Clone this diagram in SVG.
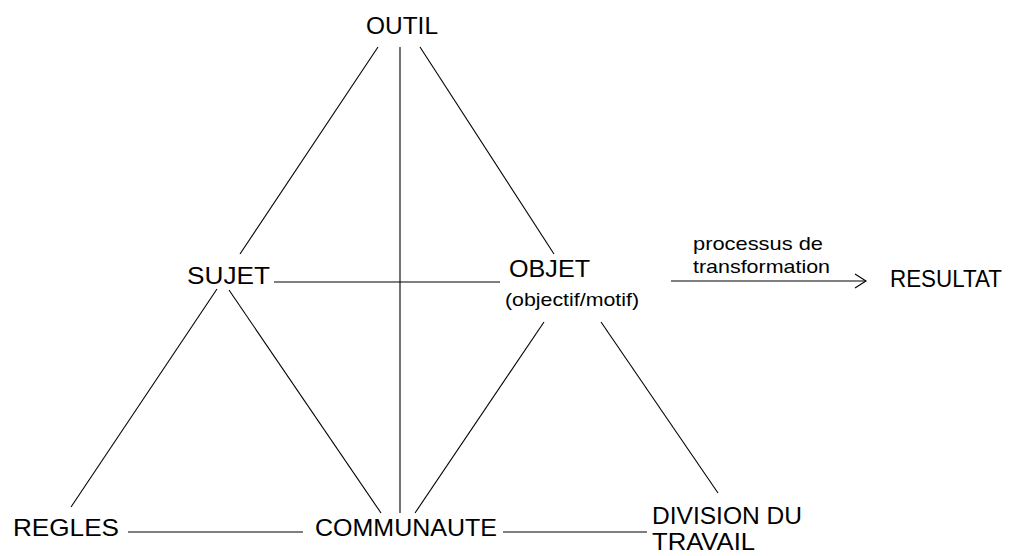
<svg xmlns="http://www.w3.org/2000/svg" width="1032" height="556" viewBox="0 0 1032 556">
<style>
.lbl{font-family:"Liberation Sans",Arial,sans-serif;font-size:24px;fill:#000}
.lbl2{font-family:"Liberation Sans",Arial,sans-serif;font-size:23px;fill:#000}
.sm{font-family:"Liberation Sans",Arial,sans-serif;font-size:19px;fill:#000}
.ln{stroke:#000;stroke-width:1.1;fill:none}
</style>
<defs>
<marker id="open" markerWidth="14" markerHeight="18" refX="12" refY="8" orient="auto" markerUnits="userSpaceOnUse">
<path d="M1,1 L12,8 L1,15" class="ln"/>
</marker>
</defs>
<rect width="1032" height="556" fill="#fff"/>
<g id="connectors">
<line class="ln" x1="400" y1="47" x2="400" y2="513"/>
<line class="ln" x1="378" y1="47" x2="240" y2="254"/>
<line class="ln" x1="420" y1="47" x2="554" y2="254"/>
<line class="ln" x1="274" y1="282" x2="500" y2="282"/>
<line class="ln" x1="217" y1="289" x2="71" y2="507"/>
<line class="ln" x1="229" y1="290" x2="381" y2="513"/>
<line class="ln" x1="544" y1="322" x2="415" y2="513"/>
<line class="ln" x1="601" y1="322" x2="718" y2="493"/>
<line class="ln" x1="128" y1="532" x2="303" y2="532"/>
<line class="ln" x1="503" y1="532" x2="647" y2="532"/>
<line class="ln" x1="671" y1="281" x2="866" y2="281" marker-end="url(#open)"/>
</g>
<g id="outil"><text class="lbl" x="366" y="34" textLength="72" lengthAdjust="spacingAndGlyphs">OUTIL</text></g>
<g id="sujet"><text class="lbl" x="187" y="284" textLength="83" lengthAdjust="spacingAndGlyphs">SUJET</text></g>
<g id="objet">
<text class="lbl" x="509" y="277" textLength="81" lengthAdjust="spacingAndGlyphs">OBJET</text>
<text class="sm" x="505" y="306" textLength="134" lengthAdjust="spacingAndGlyphs">(objectif/motif)</text>
</g>
<g id="arrow-label">
<text class="sm" x="693" y="250" textLength="130" lengthAdjust="spacingAndGlyphs">processus de</text>
<text class="sm" x="693" y="273" textLength="137" lengthAdjust="spacingAndGlyphs">transformation</text>
</g>
<g id="resultat"><text class="lbl" x="890" y="287" textLength="112" lengthAdjust="spacingAndGlyphs">RESULTAT</text></g>
<g id="regles"><text class="lbl" x="13" y="536" textLength="106" lengthAdjust="spacingAndGlyphs">REGLES</text></g>
<g id="communaute"><text class="lbl" x="315" y="536" textLength="182" lengthAdjust="spacingAndGlyphs">COMMUNAUTE</text></g>
<g id="division">
<text class="lbl2" x="652" y="524" textLength="150" lengthAdjust="spacingAndGlyphs">DIVISION DU</text>
<text class="lbl2" x="652" y="550" textLength="103" lengthAdjust="spacingAndGlyphs">TRAVAIL</text>
</g>
</svg>
